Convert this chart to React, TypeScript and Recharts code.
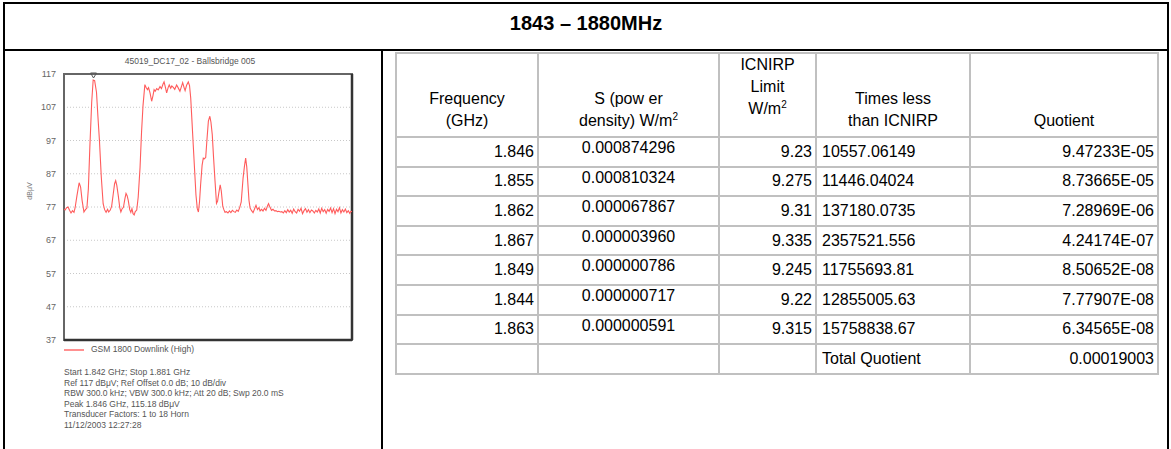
import React from "react";
import {
  LineChart,
  Line,
  XAxis,
  YAxis,
  CartesianGrid,
  ReferenceArea,
  ReferenceLine,
  ReferenceDot,
} from "recharts";

const FONT = '"Liberation Sans", Arial, sans-serif';

// spectrum trace: [frequency MHz, level dBμV]
const TRACE: [number, number][] = [
  [1842.0, 76.4], [1842.15, 76.1], [1842.35, 76.8], [1842.55, 77.0], [1842.75, 76.0],
  [1842.95, 75.2], [1843.15, 75.9], [1843.35, 75.4], [1843.5, 76.7], [1843.76, 80.5],
  [1844.05, 84.3], [1844.25, 83.0], [1844.45, 79.0], [1844.7, 75.5], [1844.9, 76.2],
  [1845.1, 76.7], [1845.3, 82.5], [1845.5, 95.0], [1845.75, 108.5], [1845.95, 115.2],
  [1846.15, 115.0], [1846.4, 111.5], [1846.6, 104.0], [1846.8, 97.0], [1847.05, 86.0],
  [1847.3, 78.0], [1847.5, 76.2], [1847.7, 75.4], [1847.9, 76.3], [1848.05, 75.5],
  [1848.25, 76.0], [1848.45, 77.2], [1848.65, 80.6], [1848.85, 84.0], [1849.0, 84.9],
  [1849.15, 83.5], [1849.35, 80.4], [1849.55, 76.8], [1849.7, 75.5], [1849.85, 76.4],
  [1850.05, 76.9], [1850.25, 79.5], [1850.4, 81.1], [1850.55, 80.4], [1850.7, 79.0],
  [1850.9, 76.2], [1851.05, 75.4], [1851.2, 76.5], [1851.35, 75.0], [1851.5, 74.6],
  [1851.65, 75.6], [1851.85, 76.1], [1852.05, 80.0], [1852.3, 89.0], [1852.5, 99.5],
  [1852.7, 107.5], [1852.95, 113.8], [1853.1, 113.0], [1853.3, 112.3], [1853.45, 112.9],
  [1853.65, 111.3], [1853.87, 108.8], [1854.05, 110.5], [1854.2, 112.3], [1854.35, 111.8],
  [1854.55, 112.6], [1854.75, 112.2], [1855.0, 113.2], [1855.2, 112.6], [1855.4, 113.9],
  [1855.55, 114.6], [1855.75, 112.8], [1855.9, 111.3], [1856.1, 112.9], [1856.25, 113.7],
  [1856.45, 112.7], [1856.6, 113.4], [1856.8, 113.0], [1857.0, 112.4], [1857.25, 113.7],
  [1857.45, 112.9], [1857.7, 111.8], [1857.9, 113.2], [1858.07, 114.4], [1858.25, 113.0],
  [1858.4, 112.0], [1858.6, 113.6], [1858.83, 114.6], [1859.0, 113.5], [1859.16, 109.8],
  [1859.35, 102.0], [1859.5, 95.7], [1859.7, 87.5], [1859.87, 80.6], [1860.05, 76.5],
  [1860.2, 75.5], [1860.35, 78.5], [1860.5, 83.7], [1860.7, 89.5], [1860.86, 91.7],
  [1861.0, 91.5], [1861.19, 91.9], [1861.35, 97.0], [1861.55, 102.8], [1861.75, 104.3],
  [1861.9, 102.5], [1862.08, 98.7], [1862.25, 92.0], [1862.45, 84.8], [1862.65, 78.1],
  [1862.8, 78.8], [1862.95, 81.0], [1863.15, 83.7], [1863.3, 81.8], [1863.5, 77.2],
  [1863.65, 76.2], [1863.8, 75.4], [1864.0, 75.6], [1864.2, 75.2], [1864.4, 75.8],
  [1864.6, 75.3], [1864.8, 76.0], [1865.0, 75.6], [1865.2, 75.4], [1865.4, 76.1],
  [1865.6, 75.7], [1865.8, 76.9], [1866.0, 78.5], [1866.25, 85.7], [1866.45, 89.5],
  [1866.6, 91.7], [1866.75, 89.0], [1866.9, 84.0], [1867.05, 79.0], [1867.2, 76.7],
  [1867.4, 75.9], [1867.6, 75.3], [1867.8, 76.4], [1868.0, 77.5], [1868.2, 76.2],
  [1868.4, 76.8], [1868.55, 75.8], [1868.75, 76.3], [1868.95, 75.8], [1869.15, 76.6],
  [1869.35, 76.0], [1869.55, 77.3], [1869.7, 78.0], [1869.9, 76.9], [1870.1, 76.0],
  [1870.3, 76.3], [1870.5, 75.8], [1870.7, 75.9], [1870.9, 75.6], [1871.1, 75.7],
  [1871.3, 75.5], [1871.5, 75.6], [1871.7, 75.2], [1871.9, 75.9], [1872.1, 75.3],
  [1872.3, 76.2], [1872.5, 75.5], [1872.7, 76.0], [1872.9, 75.1], [1873.1, 76.4],
  [1873.3, 75.6], [1873.5, 75.2], [1873.7, 76.3], [1873.9, 75.7], [1874.1, 76.6],
  [1874.3, 75.0], [1874.5, 75.9], [1874.7, 76.5], [1874.9, 75.4], [1875.1, 76.2],
  [1875.3, 75.3], [1875.5, 76.1], [1875.7, 75.8], [1875.9, 75.2], [1876.1, 76.0],
  [1876.3, 75.5], [1876.5, 76.4], [1876.7, 75.2], [1876.9, 76.6], [1877.1, 75.6],
  [1877.3, 76.2], [1877.5, 75.1], [1877.7, 76.3], [1877.9, 75.7], [1878.1, 76.7],
  [1878.3, 75.3], [1878.5, 76.5], [1878.7, 75.0], [1878.9, 76.3], [1879.1, 75.6],
  [1879.3, 76.8], [1879.5, 75.2], [1879.7, 76.2], [1879.9, 75.5], [1880.1, 76.4],
  [1880.3, 75.3], [1880.5, 75.9], [1880.7, 75.1], [1880.85, 75.7], [1881.0, 75.6],
];

const Y_TICKS = [37, 47, 57, 67, 77, 87, 97, 107, 117];
const X_GRID = [1842, 1845.9, 1849.8, 1853.7, 1857.6, 1861.5, 1865.4, 1869.3, 1873.2, 1877.1, 1881];
const PEAK: [number, number] = [1846.0, 117];

const INFO_LINES = [
  "Start 1.842 GHz; Stop 1.881 GHz",
  "Ref 117 dBμV; Ref Offset 0.0 dB; 10 dB/div",
  "RBW 300.0 kHz; VBW 300.0 kHz; Att 20 dB; Swp 20.0 mS",
  "Peak 1.846 GHz, 115.18 dBμV",
  "Transducer Factors: 1 to 18 Horn",
  "11/12/2003 12:27:28",
];

// table columns
const FREQUENCIES = ["1.846", "1.855", "1.862", "1.867", "1.849", "1.844", "1.863"];
const POWER_DENSITY = ["0.000874296", "0.000810324", "0.000067867", "0.000003960", "0.000000786", "0.000000717", "0.000000591"];
const ICNIRP_LIMIT = ["9.23", "9.275", "9.31", "9.335", "9.245", "9.22", "9.315"];
const TIMES_LESS = ["10557.06149", "11446.04024", "137180.0735", "2357521.556", "11755693.81", "12855005.63", "15758838.67"];
const QUOTIENT = ["9.47233E-05", "8.73665E-05", "7.28969E-06", "4.24174E-07", "8.50652E-08", "7.77907E-08", "6.34565E-08"];
const TOTAL_QUOTIENT = "0.00019003";

const COL_WIDTHS = [142, 181, 97, 154, 188];
const GRID = "2px solid #c0c0c0";

const line = (style: React.CSSProperties) => (
  <div style={{ position: "absolute", background: "#000", ...style }} />
);

const Sq = () => (
  <span style={{ fontSize: 10, verticalAlign: "top", lineHeight: "14px" }}>2</span>
);

function Spectrum() {
  const data = TRACE.map(([f, v]) => ({ f, v }));
  return (
    <LineChart
      width={380}
      height={300}
      data={data}
      margin={{ top: 22, right: 28, left: 24, bottom: 6 }}
    >
      <CartesianGrid stroke="#c8c8c8" strokeDasharray="1 2" />
      <XAxis
        type="number"
        dataKey="f"
        domain={[1842, 1881]}
        ticks={X_GRID}
        tick={false}
        tickLine={false}
        axisLine={false}
        height={6}
        allowDataOverflow
      />
      <YAxis
        domain={[37, 117]}
        ticks={Y_TICKS}
        interval={0}
        width={40}
        tickLine={false}
        axisLine={false}
        tick={{ fill: "#666", fontSize: 9, fontFamily: FONT }}
        label={(p: any) => {
          const vb = p.viewBox || {};
          const x = (vb.x ?? 24) + 8;
          const y = (vb.y ?? 74) + (vb.height ?? 266) / 2 - 16;
          return (
            <text
              x={x}
              y={y}
              transform={`rotate(-90 ${x} ${y})`}
              textAnchor="middle"
              fill="#777"
              fontSize={7}
              fontFamily={FONT}
            >
              dBμV
            </text>
          );
        }}
      />
      <ReferenceArea
        x1={1842}
        x2={1881}
        y1={37}
        y2={117}
        fill="none"
        stroke="#666"
        strokeWidth={2}
        ifOverflow="visible"
      />
      <ReferenceLine x={1881} stroke="#333" strokeWidth={2.5} ifOverflow="visible" />
      <ReferenceLine y={37} stroke="#333" strokeWidth={2.5} ifOverflow="visible" />
      <Line
        type="linear"
        dataKey="v"
        stroke="#ff5c5c"
        strokeWidth={1.1}
        dot={false}
        isAnimationActive={false}
      />
      <ReferenceDot
        x={PEAK[0]}
        y={PEAK[1]}
        ifOverflow="visible"
        shape={(p: any) => (
          <path
            d={`M${p.cx - 3},${p.cy - 1} L${p.cx + 3},${p.cy - 1} L${p.cx},${p.cy + 4} Z`}
            fill="none"
            stroke="#555"
            strokeWidth={1}
          />
        )}
      />
    </LineChart>
  );
}

const cell = (align: "left" | "right" | "center", extra?: React.CSSProperties): React.CSSProperties => ({
  border: GRID,
  padding: align === "left" ? "0 0 0 5px" : align === "right" ? "0 3px 0 0" : 0,
  textAlign: align,
  verticalAlign: "middle",
  whiteSpace: "nowrap",
  ...extra,
});

function DataTable() {
  const head: React.CSSProperties = {
    border: GRID,
    padding: "0 0 4px 0",
    textAlign: "center",
    verticalAlign: "bottom",
    fontWeight: "normal",
    lineHeight: "22px",
  };
  return (
    <table
      style={{
        position: "absolute",
        left: 395,
        top: 52,
        borderCollapse: "collapse",
        tableLayout: "fixed",
        fontFamily: FONT,
        fontSize: 16,
        color: "#000",
      }}
    >
      <colgroup>
        {COL_WIDTHS.map((w, i) => (
          <col key={i} style={{ width: w }} />
        ))}
      </colgroup>
      <thead>
        <tr style={{ height: 84 }}>
          <th style={head}>Frequency<br />(GHz)</th>
          <th style={head}>S (pow er<br />density) W/m<Sq /></th>
          <th style={{ ...head, verticalAlign: "top", padding: 0 }}>
            <div style={{ marginTop: 0 }}>
              ICNIRP<br />Limit<br />W/m<Sq />
            </div>
          </th>
          <th style={head}>Times less<br />than ICNIRP</th>
          <th style={head}>Quotient</th>
        </tr>
      </thead>
      <tbody>
        {FREQUENCIES.map((f, i) => (
          <tr key={f + i} style={{ height: 29.6 }}>
            <td style={cell("right")}>{f}</td>
            <td style={cell("center", { verticalAlign: "top", paddingTop: 1 })}>{POWER_DENSITY[i]}</td>
            <td style={cell("right")}>{ICNIRP_LIMIT[i]}</td>
            <td style={cell("left")}>{TIMES_LESS[i]}</td>
            <td style={cell("right")}>{QUOTIENT[i]}</td>
          </tr>
        ))}
        <tr style={{ height: 29.6 }}>
          <td style={cell("right")}></td>
          <td style={cell("center")}></td>
          <td style={cell("right")}></td>
          <td style={cell("left")}>Total Quotient</td>
          <td style={cell("right")}>{TOTAL_QUOTIENT}</td>
        </tr>
      </tbody>
    </table>
  );
}

export default function App() {
  const small: React.CSSProperties = { fontFamily: FONT, fontSize: 8.5, color: "#555" };
  return (
    <div
      style={{
        position: "absolute",
        left: 0,
        top: 0,
        width: 1171,
        height: 449,
        background: "#fff",
        overflow: "hidden",
        fontFamily: FONT,
      }}
    >
      {line({ left: 3, top: 2, width: 1166, height: 2 })}
      {line({ left: 3, top: 2, width: 2, height: 447 })}
      {line({ left: 1167, top: 2, width: 2, height: 447 })}
      {line({ left: 3, top: 49, width: 1166, height: 2 })}
      {line({ left: 381, top: 49, width: 2, height: 400 })}

      <div
        style={{
          position: "absolute",
          left: 5,
          top: 4,
          width: 1162,
          height: 38,
          lineHeight: "38px",
          textAlign: "center",
          fontWeight: "bold",
          fontSize: 20,
        }}
      >
        1843 – 1880MHz
      </div>

      <div style={{ ...small, position: "absolute", left: 40, top: 56, width: 300, textAlign: "center" }}>
        45019_DC17_02 - Ballsbridge 005
      </div>

      <div style={{ position: "absolute", left: 0, top: 52 }}>
        <Spectrum />
      </div>

      <div style={{ position: "absolute", left: 64, top: 349, width: 20, height: 1.5, background: "#ff9090" }} />
      <div style={{ ...small, position: "absolute", left: 91, top: 344 }}>GSM 1800 Downlink (High)</div>

      <div style={{ ...small, position: "absolute", left: 64, top: 367, lineHeight: "10.6px" }}>
        {INFO_LINES.map((t) => (
          <div key={t}>{t}</div>
        ))}
      </div>

      <DataTable />
    </div>
  );
}
